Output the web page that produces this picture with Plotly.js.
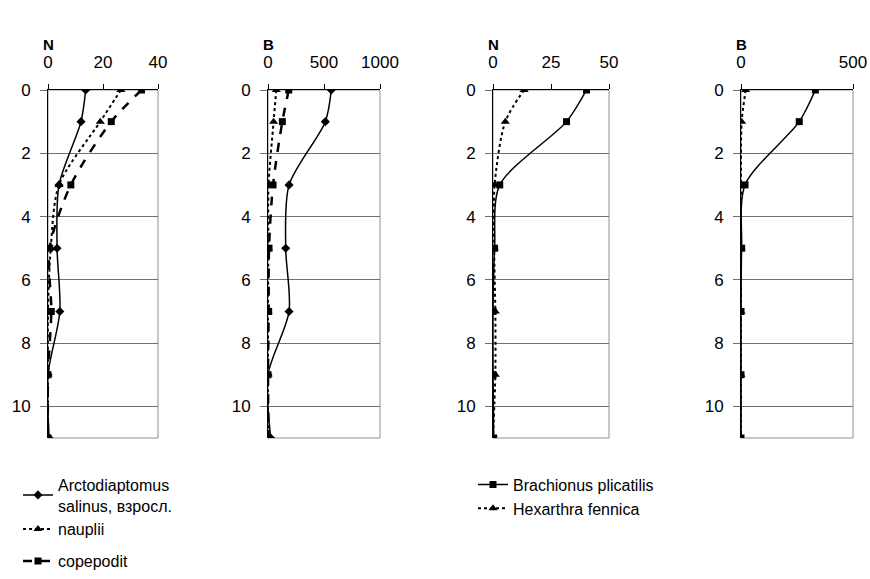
<!DOCTYPE html>
<html><head><meta charset="utf-8">
<script src="https://cdn.plot.ly/plotly-3.0.1.min.js"></script>
<style>body{margin:0;background:#fff}#c{width:870px;height:579px}</style>
</head><body><div id="c"></div>
<script>
const depth = [0, 1, 3, 5, 7, 9, 11];
// Copepods, abundance N
const arctoN = [13.7, 12, 4, 3.3, 4.3, 0, 0.4];
const naupN = [26.5, 19, 4, 1, 0, 0, 0];
const copeN = [34, 23, 8.3, 0.6, 1.2, 0, 0];
// Copepods, biomass B
const arctoB = [565, 512, 188, 158, 188, 0, 24];
const naupB = [74, 50, 5, 3, 0, 0, 0];
const copeB = [185, 128, 45, 9, 6, 0, 5];
// Rotifers, abundance N
const brachN = [40.3, 31.7, 2.9, 0.7, 0, 0, 0.3];
const hexN = [13.4, 5.3, 0.7, 0.5, 1, 1, 0];
// Rotifers, biomass B
const brachB = [332, 260, 18, 3, 0, 0, 0];
const hexB = [21, 3, 0, 0, 0, 0, 0];

const names = ["Arctodiaptomus<br>salinus, взросл.", "nauplii", "copepodit", "Brachionus plicatilis", "Hexarthra fennica"];
const panelTitles = ["N", "B", "N", "B"];
const xRanges = [[0, 40], [0, 1000], [0, 50], [0, 500]];
const xDticks = [20, 500, 25, 500];

const FONT = "Liberation Sans, Arial, sans-serif";
const W = 870;
const doms = [[48, 158], [268, 380], [493, 609], [741, 853]];

const sArcto = {line: {color: "#000", width: 1.5, dash: "solid", shape: "spline", smoothing: 0.8}, marker: {symbol: "diamond", size: 7, color: "#000"}};
const sNaup = {line: {color: "#000", width: 2, dash: "dot", shape: "spline", smoothing: 0.8}, marker: {symbol: "triangle-up", size: 8, color: "#000"}};
const sCope = {line: {color: "#000", width: 2.5, dash: "dash", shape: "spline", smoothing: 0.8}, marker: {symbol: "square", size: 7, color: "#000"}};
const sBrach = {line: {color: "#000", width: 1.5, dash: "solid", shape: "spline", smoothing: 0.8}, marker: {symbol: "square", size: 7, color: "#000"}};
const sHex = {line: {color: "#000", width: 2, dash: "dot", shape: "spline", smoothing: 0.8}, marker: {symbol: "triangle-up", size: 8, color: "#000"}};

function tr(x, style, name, ax, show, legend, group) {
  return Object.assign({type: "scatter", mode: "lines+markers", x: x, y: depth, name: name,
    xaxis: "x" + (ax === 1 ? "" : ax), yaxis: "y" + (ax === 1 ? "" : ax),
    showlegend: show, legend: legend, legendgroup: group, hoverinfo: "x+y"}, style);
}

const data = [
  tr(arctoN, sArcto, names[0], 1, true, "legend", "g1"),
  tr(naupN, sNaup, names[1], 1, true, "legend", "g1"),
  tr(copeN, sCope, names[2], 1, true, "legend", "g2"),
  tr(arctoB, sArcto, names[0], 2, false, "legend", "g1"),
  tr(naupB, sNaup, names[1], 2, false, "legend", "g1"),
  tr(copeB, sCope, names[2], 2, false, "legend", "g2"),
  tr(brachN, sBrach, names[3], 3, true, "legend2", "h1"),
  tr(hexN, sHex, names[4], 3, true, "legend2", "h1"),
  tr(brachB, sBrach, names[3], 4, false, "legend2", "h1"),
  tr(hexB, sHex, names[4], 4, false, "legend2", "h1")
];

const layout = {
  width: 870, height: 579,
  margin: {l: 0, r: 0, t: 90, b: 141},
  paper_bgcolor: "#fff", plot_bgcolor: "#fff",
  font: {family: FONT, size: 16, color: "#000"},
  annotations: [], shapes: [],
  legend: {x: 18 / W, xanchor: "left", y: -0.085, yanchor: "top", font: {family: FONT, size: 16, color: "#000"},
    traceorder: "grouped", tracegroupgap: 8, bgcolor: "rgba(0,0,0,0)"},
  legend2: {x: 473 / W, xanchor: "left", y: -0.085, yanchor: "top", font: {family: FONT, size: 16, color: "#000"},
    bgcolor: "rgba(0,0,0,0)"}
};

for (let i = 0; i < 4; i++) {
  const s = i === 0 ? "" : String(i + 1);
  layout["xaxis" + s] = {
    domain: [doms[i][0] / W, doms[i][1] / W], anchor: "y" + s, side: "top",
    range: xRanges[i], dtick: xDticks[i], tick0: 0,
    showgrid: false, zeroline: false, showline: true, linecolor: "#000", linewidth: 1,
    ticks: "outside", ticklen: 5, tickcolor: "#000", ticklabelstandoff: 9,
    tickfont: {family: FONT, size: 17, color: "#000"}, fixedrange: true
  };
  layout["yaxis" + s] = {
    domain: [0, 1], anchor: "x" + s, range: [11, 0], dtick: 2, tick0: 0,
    showgrid: true, gridcolor: "#707070", gridwidth: 1, zeroline: false,
    showline: true, linecolor: "#000", linewidth: 1,
    ticks: "outside", ticklen: 7, tickcolor: "#707070", ticklabelstandoff: 6,
    tickfont: {family: FONT, size: 17, color: "#000"}, fixedrange: true
  };
  layout.shapes.push({type: "rect", xref: "x" + s + " domain", yref: "y" + s + " domain",
    x0: 0, x1: 1, y0: 0, y1: 1, line: {color: "#909090", width: 1}, layer: "below"});
  layout.annotations.push({text: "<b>" + panelTitles[i] + "</b>", xref: "x" + s, yref: "paper",
    x: 0, y: 1 + 45 / 348, xanchor: "center", yanchor: "middle", showarrow: false,
    font: {family: FONT, size: 15, color: "#000"}});
}

Plotly.newPlot("c", data, layout, {displayModeBar: false, staticPlot: true});
</script></body></html>
